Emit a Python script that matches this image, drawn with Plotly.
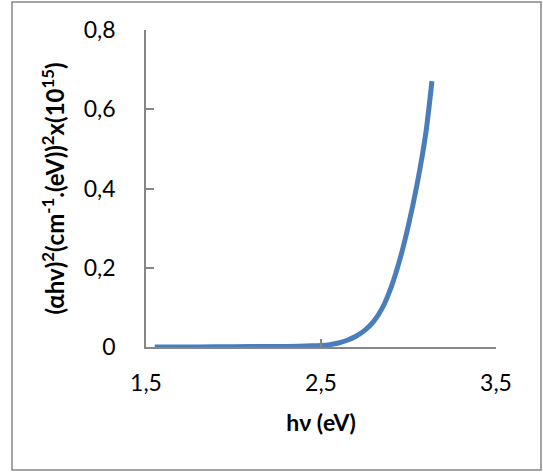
import plotly.graph_objects as go

# Data
hv = [1.55, 1.7, 1.9, 2.1, 2.3, 2.45, 2.5, 2.55, 2.6, 2.65, 2.7, 2.75, 2.8,
      2.85, 2.9, 2.95, 3.0, 3.05, 3.1, 3.134]
alpha_hv_sq = [0.0, 0.0, 0.0005, 0.001, 0.0015, 0.003, 0.004, 0.006, 0.010,
               0.017, 0.027, 0.042, 0.064, 0.098, 0.150, 0.220, 0.308, 0.413,
               0.543, 0.671]

x_tickvals = [1.5, 2.5, 3.5]
x_ticktext = ["1,5", "2,5", "3,5"]
y_tickvals = [0, 0.2, 0.4, 0.6, 0.8]
y_ticktext = ["0", "0,2", "0,4", "0,6", "0,8"]

FONT = "Lato"
AX = "#868686"
FS = 23

fig = go.Figure()
fig.add_trace(go.Scatter(
    x=hv, y=alpha_hv_sq, mode="lines",
    line=dict(color="#4A7EBB", width=5, shape="spline", smoothing=0.6),
    showlegend=False, hoverinfo="skip",
))

fig.update_layout(
    width=543, height=476,
    margin=dict(l=146, r=47, t=30, b=129),
    paper_bgcolor="white", plot_bgcolor="white",
    font=dict(family=FONT, size=FS, color="black"),
    showlegend=False,
    xaxis=dict(
        range=[1.5, 3.5], tickvals=x_tickvals, ticktext=x_ticktext,
        showgrid=False, zeroline=False, showline=True, linecolor=AX, linewidth=1.5,
        ticks="inside", ticklen=8, tickcolor=AX, tickwidth=1.5,
        ticklabelstandoff=15,
        title=dict(text="<b>hν (eV)</b>", font=dict(family=FONT, size=FS), standoff=20),
        automargin=False,
    ),
    yaxis=dict(
        range=[0, 0.8], tickvals=y_tickvals, ticktext=y_ticktext,
        showgrid=False, zeroline=False, showline=True, linecolor=AX, linewidth=1.5,
        ticks="inside", ticklen=8, tickcolor=AX, tickwidth=1.5,
        ticklabelstandoff=24,
        title=dict(text="<b>(αhv)<sup>2</sup>(cm<sup>-1</sup>.(eV))<sup>2</sup>x(10<sup>15</sup>)</b>",
                   font=dict(family=FONT, size=24), standoff=12),
        automargin=False,
    ),
    shapes=[dict(
        type="rect", xref="paper", yref="paper",
        x0=(12 - 146) / 350, x1=(541 - 146) / 350,
        y0=(347 - 470) / 317, y1=(347 - 2) / 317,
        line=dict(color=AX, width=1.5), fillcolor="rgba(0,0,0,0)", layer="below",
    )],
)

fig.write_html(
    "out.html",
    config={"displayModeBar": False},
    post_script="document.body.style.margin='0';document.body.style.overflow='hidden';",
)
